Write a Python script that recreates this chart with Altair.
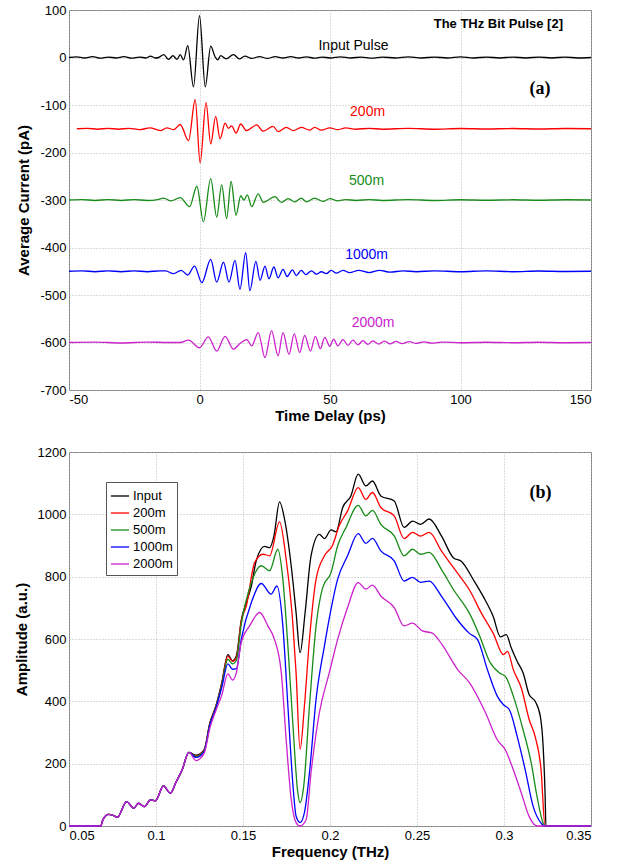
import altair as alt
import pandas as pd

# ---------------- panel (a): time-domain pulses ----------------
input_t = [-50, -47, -44, -41, -38, -35, -32, -29, -26, -23, -20.5, -18.8, -16.9, -15.6, -13.7, -11.8, -10.2, -8.6, -7.4, -6.1,
           -4.5, -2.3, 0, 2.2, 4.3, 6, 7, 8.1, 10.2, 13, 15.3, 17.4, 20, 23, 26, 29, 32, 35, 38, 41, 44, 47, 50, 54, 58,
           62, 66, 70, 75, 80, 85, 90, 95, 100, 105, 110, 115, 120, 125, 130, 135, 140, 145, 150]
input_v = [0, 1.5, -1, 2, -1.5, 1, -1, 2, -1.5, 1, -1, 3, -1, 0, 6, -4, 4, -4, 6, -5,
           25, -62, 88, -62, 24, 1, -5, 4, -3, 6, -3, 3, -2, 2, -2, 2, -1, 2, -1, 1.5, -1.5, 1, -1, 1.5, -1,
           1, -1.5, 1, -1, 1.5, -1, 1, -1, 1.5, -1, 1, -1, 1, -1, 1, -1, 1, -1, 0]

r200_t = [-47, -43, -39, -35, -31, -27, -23, -19, -15, -12.5, -9.9, -7.4, -4.2, -1.65, 0.25, 2.5, 4.3, 6.2, 7.9, 9.8,
          11.1, 12.3, 14, 15.8, 18, 21.9, 24.4, 28.2, 30.1, 33.3, 35.9, 39, 42.2, 44.1, 46.7, 49.9, 53, 56, 60, 65,
          70, 80, 90, 100, 110, 120, 130, 140, 150]
r200_v = [-150, -149, -151, -149, -151, -149, -152, -148, -154, -148, -152, -141, -175, -89, -222, -95, -182, -124, -171, -138,
          -149, -144, -159, -140, -154, -142, -155, -145, -156, -147, -154, -147, -153, -147, -153, -148, -152, -148, -151, -149,
          -151, -149, -151, -149.5, -150.5, -149.5, -150.5, -149.5, -150]

r500_t = [-50, -45, -40, -35, -30, -25, -20, -16, -13.7, -11, -7.4, -3.8, -1, 1.5, 4.3, 6.6, 8.5, 10.4, 12.1, 14,
          15.8, 17, 18.3, 20, 22.5, 24.4, 28.9, 31.4, 34, 36.5, 39, 41, 44.1, 47.3, 50, 53, 56, 60, 65, 70,
          80, 90, 100, 110, 120, 130, 140, 150]
r500_v = [-300, -299, -301, -299, -301, -299, -301, -299, -296, -302, -295, -314, -271, -346, -255, -336, -268, -339, -261, -332,
          -291, -300, -289, -314, -287, -305, -293, -305, -297, -304, -296, -304, -296, -303, -297, -302, -299, -301, -299, -301,
          -299, -301, -299.5, -300.5, -299.5, -300.5, -299.5, -300]

r1000_t = [-50, -45, -40, -35, -30, -25, -20, -15, -13, -10, -7, -4.5, -1.9, 0.9, 4.3, 6.6, 9.2, 11.3, 13.6, 15.5,
           17.7, 19.3, 21.6, 23.2, 25.1, 26.6, 28.5, 30.1, 32, 33.6, 35.6, 37.1, 39, 40.7, 42.9, 44.8, 46.7, 48.6, 50.5, 52.4,
           55, 57.5, 61, 65, 69, 73, 78, 83, 90, 100, 110, 120, 130, 140, 150]
r1000_v = [-450, -449, -451, -449, -451, -449, -451, -449, -449, -455, -448, -458, -439, -474, -425, -473, -431, -473, -427, -488,
           -411, -491, -429, -469, -439, -466, -441, -464, -446, -461, -447, -459, -448, -457, -449, -456, -451, -455, -448, -454,
           -448, -453, -448, -453, -448, -452, -449, -451, -449, -451, -449, -451, -449.5, -450.5, -450]

r2000_t = [-50, -40, -30, -20, -12, -7.4, -4.2, 0, 3.4, 6.6, 9.8, 13, 15.5, 18.1, 20, 22.5, 25.1, 27.6, 30.1, 32,
           34.3, 36.3, 38.4, 40.3, 42.5, 44.4, 46.3, 48, 49.9, 51.4, 53, 55, 56.9, 58.8, 60.7, 62.6, 64.5, 66.4, 68.7, 70.9,
           73, 75.3, 77.6, 80.4, 82.9, 86, 89, 93, 100, 110, 120, 130, 140, 150]
r2000_v = [-600, -599, -601, -599, -600, -600, -595, -611, -588, -618, -587, -614, -602, -594, -607, -579, -632, -575, -628, -579,
           -625, -582, -621, -585, -618, -587, -613, -589, -608, -593, -607, -594, -606, -595, -605, -596, -604, -596.5, -603.5, -597,
           -603, -597.5, -602.5, -598, -602, -598.5, -601.5, -599, -600.5, -599.5, -600.5, -599.5, -600.5, -600]

# ---------------- panel (b): spectra ----------------
common_f = [0.05, 0.0683, 0.0694, 0.0728, 0.075, 0.0778, 0.0831, 0.0872, 0.0899, 0.0934, 0.0968, 0.0997,
            0.1043, 0.1082, 0.1116, 0.115, 0.1189]
common_a = [0, 0, 19, 37, 35, 28, 78, 57, 73, 62, 84, 81, 129, 105, 142, 180, 236]

in_f = [0.123, 0.1276, 0.131, 0.1344, 0.1378, 0.1413, 0.144, 0.1462, 0.149, 0.1519, 0.1548, 0.1576, 0.1624, 0.1653,
        0.1678, 0.171, 0.1739, 0.1777, 0.1805, 0.1828, 0.1857, 0.1891, 0.1939, 0.1968, 0.2006, 0.2035, 0.2073, 0.212,
        0.2162, 0.2206, 0.2244, 0.2292, 0.2369, 0.2426, 0.2475, 0.252, 0.257, 0.2642, 0.271, 0.2756, 0.2824, 0.2881,
        0.2938, 0.2979, 0.3013, 0.3042, 0.3076, 0.311, 0.3145, 0.3179, 0.3209, 0.3225, 0.3236, 0.3241, 0.35]
in_a = [227, 244, 332, 385, 460, 550, 530, 546, 660, 717, 770, 851, 897, 893,
        931, 1040, 984, 835, 685, 556, 685, 867, 936, 922, 950, 944, 1022, 1059,
        1129, 1091, 1107, 1059, 1043, 958, 978, 968, 985, 929, 860, 849, 790, 736,
        672, 607, 614, 571, 528, 491, 421, 400, 351, 255, 105, 0, 0]

m200_f = [0.123, 0.1276, 0.131, 0.1344, 0.1378, 0.1413, 0.144, 0.1462, 0.149, 0.1519, 0.1567, 0.1615, 0.1653, 0.171,
          0.1748, 0.1786, 0.1805, 0.1828, 0.1853, 0.1882, 0.192, 0.1968, 0.2015, 0.2054, 0.2101, 0.2162, 0.2206, 0.2244,
          0.2292, 0.2369, 0.2426, 0.2475, 0.252, 0.257, 0.2642, 0.2733, 0.2801, 0.287, 0.2938, 0.2997, 0.302, 0.3054,
          0.31, 0.3145, 0.3179, 0.3213, 0.3236, 0.35]
m200_a = [225, 242, 330, 383, 456, 545, 528, 540, 658, 706, 845, 872, 867, 976,
          856, 653, 492, 246, 385, 599, 792, 867, 901, 965, 1011, 1086, 1048, 1070,
          1022, 995, 922, 942, 930, 942, 881, 811, 758, 683, 618, 550, 560, 501,
          442, 341, 287, 180, 0, 0]

m500_f = [0.123, 0.1276, 0.131, 0.1344, 0.1378, 0.1413, 0.144, 0.1462, 0.149, 0.1548, 0.1605, 0.1653, 0.17, 0.1729,
          0.1758, 0.1786, 0.1815, 0.1828, 0.1849, 0.1882, 0.192, 0.1958, 0.2006, 0.2044, 0.2092, 0.2162, 0.2206, 0.2244,
          0.2292, 0.2369, 0.2426, 0.2475, 0.252, 0.257, 0.2642, 0.271, 0.2801, 0.286, 0.2917, 0.2974, 0.3008, 0.3054,
          0.311, 0.3157, 0.319, 0.3225, 0.3236, 0.35]
m500_a = [223, 240, 328, 381, 452, 535, 520, 532, 647, 781, 835, 819, 888, 792,
          578, 332, 107, 75, 128, 385, 642, 765, 813, 899, 958, 1029, 995, 1013,
          968, 931, 867, 888, 872, 878, 822, 758, 683, 610, 528, 491, 480, 416,
          308, 201, 94, 9, 0, 0]

m1000_f = [0.123, 0.1276, 0.131, 0.1344, 0.1378, 0.1413, 0.144, 0.1462, 0.149, 0.1548, 0.1605, 0.1662, 0.1695, 0.1729,
           0.1758, 0.1786, 0.1805, 0.1828, 0.1853, 0.1882, 0.192, 0.1968, 0.2006, 0.2044, 0.2101, 0.2162, 0.2206, 0.2244,
           0.2292, 0.2369, 0.2426, 0.2474, 0.252, 0.257, 0.2642, 0.2733, 0.2801, 0.2848, 0.2905, 0.2962, 0.2997, 0.3031,
           0.3076, 0.3122, 0.3168, 0.3213, 0.3232, 0.35]
m1000_a = [220, 238, 325, 378, 445, 520, 503, 505, 599, 717, 778, 744, 770, 642,
           385, 139, 32, 11, 43, 171, 407, 578, 696, 792, 867, 938, 907, 923,
           883, 851, 786, 798, 782, 786, 736, 661, 618, 598, 501, 416, 389, 373,
           287, 180, 62, 9, 0, 0]

m2000_f = [0.123, 0.1276, 0.131, 0.1344, 0.1378, 0.1413, 0.144, 0.1462, 0.149, 0.1538, 0.1596, 0.1643, 0.1681, 0.172,
           0.1748, 0.1777, 0.1805, 0.1828, 0.1863, 0.1891, 0.1939, 0.1996, 0.2044, 0.2101, 0.2162, 0.2206, 0.2244, 0.2292,
           0.2369, 0.2426, 0.2474, 0.2531, 0.2588, 0.2644, 0.2735, 0.2804, 0.2895, 0.2962, 0.3008, 0.3054, 0.31, 0.3145,
           0.3179, 0.32, 0.35]
m2000_a = [210, 232, 315, 370, 420, 488, 468, 492, 589, 642, 685, 642, 599, 492,
           278, 86, 11, 0, 21, 171, 364, 492, 599, 701, 781, 760, 773, 738,
           701, 642, 651, 626, 619, 582, 501, 458, 362, 276, 244, 180, 105, 30,
           3, 0, 0]

series_names = ["Input", "200m", "500m", "1000m", "2000m"]
series_colors = ["#000000", "#ff0000", "#188c18", "#0000ff", "#cc22cc"]

# annotation texts of panel (a)
note_labels = ["Input Pulse", "200m", "500m", "1000m", "2000m"]
note_t = [59, 64.4, 64, 64, 66.5]
note_v = [25, -114, -260, -415, -558]

# ---------------- build tables ----------------
rows = []
for name, ts, vs in zip(series_names, [input_t, r200_t, r500_t, r1000_t, r2000_t],
                        [input_v, r200_v, r500_v, r1000_v, r2000_v]):
    for i, (t, v) in enumerate(zip(ts, vs)):
        rows.append({"t": t, "v": v, "series": name, "idx": i})
df_a = pd.DataFrame(rows)

rows = []
for name, fs, amps in zip(series_names, [in_f, m200_f, m500_f, m1000_f, m2000_f],
                          [in_a, m200_a, m500_a, m1000_a, m2000_a]):
    full_f = common_f + fs
    full_a = common_a + amps
    for i, (f, a) in enumerate(zip(full_f, full_a)):
        rows.append({"f": f, "amp": a, "series": name, "idx": i})
df_b = pd.DataFrame(rows)

df_notes = pd.DataFrame({"t": note_t, "v": note_v, "label": note_labels, "series": series_names})
df_title_a = pd.DataFrame({"t": [114.5], "v": [70], "label": ["The THz Bit Pulse [2]"]})
df_tag_a = pd.DataFrame({"t": [130.5], "v": [-66], "label": ["(a)"]})
df_tag_b = pd.DataFrame({"f": [0.321], "amp": [1070], "label": ["(b)"]})

FONT = "Liberation Sans"
W = 522
HYPHEN = "replace(datum.label, '\u2212', '-')"

color_scale = alt.Scale(domain=series_names, range=series_colors)

xa = alt.X("t:Q", scale=alt.Scale(domain=[-50, 150], nice=False),
           axis=alt.Axis(values=[-50, 0, 50, 100, 150], title="Time Delay (ps)", labelExpr=HYPHEN))
ya = alt.Y("v:Q", scale=alt.Scale(domain=[-700, 100], nice=False),
           axis=alt.Axis(values=[100, 0, -100, -200, -300, -400, -500, -600, -700], title="Average Current (pA)",
                         labelExpr=HYPHEN))

lines_a = alt.Chart(df_a).mark_line(strokeWidth=1.3, interpolate="monotone").encode(
    x=xa, y=ya,
    color=alt.Color("series:N", scale=color_scale, legend=None),
    order="idx:Q",
)
notes_a = alt.Chart(df_notes).mark_text(font=FONT, fontSize=14, align="center", baseline="middle").encode(
    x="t:Q", y="v:Q", text="label:N",
    color=alt.Color("series:N", scale=color_scale, legend=None),
)
title_a = alt.Chart(df_title_a).mark_text(font=FONT, fontSize=13, fontWeight="bold", align="center",
                                          baseline="middle", color="#000000").encode(
    x="t:Q", y="v:Q", text="label:N")
tag_a = alt.Chart(df_tag_a).mark_text(font="Liberation Serif", fontSize=18, fontWeight="bold", align="center",
                                      baseline="middle", color="#000000").encode(
    x="t:Q", y="v:Q", text="label:N")

chart_a = alt.layer(lines_a, notes_a, title_a, tag_a).properties(width=W, height=380)

xb = alt.X("f:Q", scale=alt.Scale(domain=[0.05, 0.35], nice=False),
           axis=alt.Axis(values=[0.05, 0.1, 0.15, 0.2, 0.25, 0.3, 0.35], format=".2~f", title="Frequency (THz)"))
yb = alt.Y("amp:Q", scale=alt.Scale(domain=[0, 1200], nice=False),
           axis=alt.Axis(values=[0, 200, 400, 600, 800, 1000, 1200], format="d", title="Amplitude (a.u.)"))

lines_b = alt.Chart(df_b).mark_line(strokeWidth=1.3, interpolate="monotone").encode(
    x=xb, y=yb,
    color=alt.Color("series:N", scale=color_scale, sort=series_names,
                    legend=alt.Legend(orient="none", legendX=37, legendY=30, title=None,
                                      symbolType="stroke", symbolSize=330, symbolStrokeWidth=1.3,
                                      labelFont=FONT, labelFontSize=13, labelColor="#000000",
                                      strokeColor="#555555", fillColor="#ffffff", padding=4,
                                      rowPadding=0, labelOffset=3, cornerRadius=0)),
    order="idx:Q",
)
tag_b = alt.Chart(df_tag_b).mark_text(font="Liberation Serif", fontSize=18, fontWeight="bold", align="center",
                                      baseline="middle", color="#000000").encode(
    x="f:Q", y="amp:Q", text="label:N")

chart_b = alt.layer(lines_b, tag_b).properties(width=W, height=374)

chart = alt.vconcat(chart_a, chart_b, spacing=21).resolve_scale(color="independent").resolve_legend(
    color="independent"
).properties(
    padding={"left": 13, "top": 3, "right": 5, "bottom": 2}
).configure_view(
    stroke="#7a7a7a", strokeWidth=1
).configure_axis(
    labelFont=FONT, labelFontSize=13, labelColor="#000000", labelPadding=3,
    titleFont=FONT, titleFontSize=15, titleFontWeight="bold", titleColor="#000000",
    ticks=False, domain=False,
    grid=True, gridColor="#b8b8b8", gridDash=[1, 2], gridWidth=1,
).configure_axisY(titlePadding=8).configure_axisX(titlePadding=2)

chart.save("out.html", embed_options={"renderer": "svg", "actions": False})
